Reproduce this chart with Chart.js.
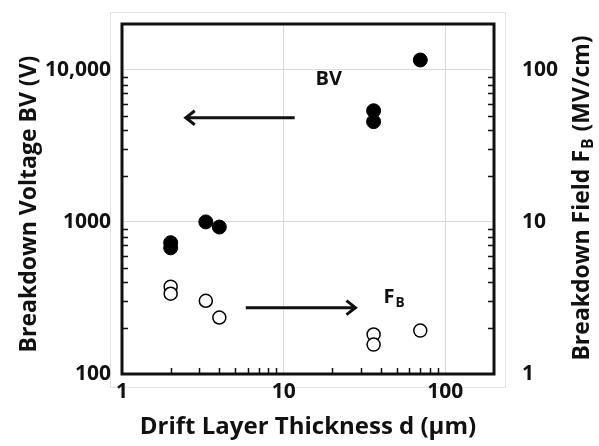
<!DOCTYPE html>
<html>
<head>
<meta charset="utf-8">
<script src="https://cdn.jsdelivr.net/npm/chart.js@4"></script>
<style>
  html, body { margin: 0; padding: 0; background: #fff; }
  #wrap { width: 599px; height: 446px; }
</style>
</head>
<body>
<div id="wrap"><canvas id="c" width="599" height="446"></canvas></div>
<script>
// drift layer thickness d (µm), shared by both series
const thickness = [2, 2, 3.3, 4, 36, 36, 70];
// breakdown voltage BV (V), left axis
const bvValues = [730, 675, 1000, 925, 5380, 4560, 11600];
// breakdown field F_B (MV/cm), right axis
const fbValues = [3.75, 3.37, 3.03, 2.35, 1.82, 1.56, 1.93];

const xTicks = [1, 10, 100];
const bvTicks = [100, 1000, 10000];
const fbTicks = [1, 10, 100];

const FONT = "'Open Sans', sans-serif";
const INK = "#111";

function minorValues(min, max) {
  const out = [];
  for (let dec = min; dec < max; dec *= 10) {
    for (let k = 2; k <= 9; k++) {
      const v = dec * k;
      if (v < max) out.push(v);
    }
  }
  return out;
}

function measureSub(ctx, main, sub, rest, size) {
  ctx.font = `bold ${size}px ${FONT}`;
  const w1 = ctx.measureText(main).width;
  const w3 = ctx.measureText(rest).width;
  ctx.font = `bold ${size * 0.68}px ${FONT}`;
  const w2 = ctx.measureText(sub).width;
  return { w1, w2, w3, total: w1 + w2 + w3 + 2 };
}

// text with a subscript part, e.g. F + B
function putSub(ctx, x, y, main, sub, rest, size) {
  const m = measureSub(ctx, main, sub, rest, size);
  ctx.textAlign = "left";
  ctx.textBaseline = "middle";
  ctx.font = `bold ${size}px ${FONT}`;
  ctx.fillText(main, x, y);
  ctx.font = `bold ${size * 0.68}px ${FONT}`;
  ctx.fillText(sub, x + m.w1 + 1, y + size * 0.28);
  ctx.font = `bold ${size}px ${FONT}`;
  ctx.fillText(rest, x + m.w1 + m.w2 + 2, y);
  return m;
}

function arrow(ctx, x0, y0, x1, y1) {
  const dir = Math.sign(x1 - x0);
  ctx.beginPath();
  ctx.moveTo(x0, y0);
  ctx.lineTo(x1, y1);
  ctx.moveTo(x1 - dir * 9, y1 - 7);
  ctx.lineTo(x1, y1);
  ctx.lineTo(x1 - dir * 9, y1 + 7);
  ctx.stroke();
}

const decorations = {
  id: "decorations",
  beforeDraw(chart) {
    const { ctx } = chart;
    ctx.save();
    ctx.strokeStyle = "#e4e4e4";
    ctx.lineWidth = 1;
    ctx.strokeRect(110.5, 12.5, 395, 375);
    ctx.restore();
  },
  afterDraw(chart) {
    const { ctx, chartArea: a, scales } = chart;
    const sx = scales.x, sy = scales.y, sy2 = scales.y2;
    ctx.save();
    ctx.strokeStyle = INK;
    ctx.fillStyle = INK;

    // minor ticks, inside the frame
    ctx.lineWidth = 1.5;
    ctx.beginPath();
    for (const v of minorValues(1, 200)) {
      const px = Math.round(sx.getPixelForValue(v)) + 0.5;
      ctx.moveTo(px, a.bottom);
      ctx.lineTo(px, a.bottom - 6);
    }
    for (const v of minorValues(100, 20000)) {
      const py = Math.round(sy.getPixelForValue(v)) + 0.5;
      ctx.moveTo(a.left, py);
      ctx.lineTo(a.left + 6, py);
    }
    for (const v of minorValues(1, 200)) {
      const py = Math.round(sy2.getPixelForValue(v)) + 0.5;
      ctx.moveTo(a.right, py);
      ctx.lineTo(a.right - 6, py);
    }
    ctx.stroke();

    // frame
    ctx.lineWidth = 3;
    ctx.strokeRect(a.left, a.top, a.right - a.left, a.bottom - a.top);

    // annotation arrows
    arrow(ctx, sx.getPixelForValue(11.7), sy.getPixelForValue(4840),
               sx.getPixelForValue(2.48), sy.getPixelForValue(4840));
    arrow(ctx, sx.getPixelForValue(5.83), sy2.getPixelForValue(2.73),
               sx.getPixelForValue(27.8), sy2.getPixelForValue(2.73));

    // annotation labels
    ctx.font = `bold 20px ${FONT}`;
    ctx.textAlign = "center";
    ctx.textBaseline = "middle";
    ctx.fillText("BV", sx.getPixelForValue(19), sy.getPixelForValue(8600));
    putSub(ctx, sx.getPixelForValue(41.4), sy2.getPixelForValue(3.18), "F", "B", "", 20);

    // axis titles
    ctx.font = `bold 24px ${FONT}`;
    ctx.textAlign = "center";
    ctx.textBaseline = "middle";
    ctx.fillText("Drift Layer Thickness d (\u00b5m)", 308, 427);

    ctx.font = `bold 23px ${FONT}`;
    ctx.save();
    ctx.translate(29, 204);
    ctx.rotate(-Math.PI / 2);
    ctx.fillText("Breakdown Voltage BV (V)", 0, 0);
    ctx.restore();

    ctx.save();
    ctx.translate(582, 198);
    ctx.rotate(-Math.PI / 2);
    const m = measureSub(ctx, "Breakdown Field F", "B", " (MV/cm)", 23);
    putSub(ctx, -m.total / 2, 0, "Breakdown Field F", "B", " (MV/cm)", 23);
    ctx.restore();

    ctx.restore();
  }
};

const tickFont = { family: FONT, size: 21, weight: "bold" };

function fitVertical(width) {
  return s => {
    s.width = width;
    s.paddingTop = 0;
    s.paddingBottom = 0;
  };
}

new Chart(document.getElementById("c"), {
  type: "scatter",
  data: {
    datasets: [
      {
        label: "BV",
        yAxisID: "y",
        data: thickness.map((d, i) => ({ x: d, y: bvValues[i] })),
        pointStyle: "circle",
        pointRadius: 7,
        pointBackgroundColor: "#000",
        pointBorderColor: "#000",
        pointBorderWidth: 1
      },
      {
        label: "FB",
        yAxisID: "y2",
        data: thickness.map((d, i) => ({ x: d, y: fbValues[i] })),
        pointStyle: "circle",
        pointRadius: 6.5,
        pointBackgroundColor: "#fff",
        pointBorderColor: "#000",
        pointBorderWidth: 1.5
      }
    ]
  },
  options: {
    responsive: false,
    animation: false,
    layout: { padding: { top: 24, left: 0, right: 0, bottom: 0 } },
    plugins: { legend: { display: false }, tooltip: { enabled: false } },
    scales: {
      x: {
        type: "logarithmic",
        min: 1,
        max: 200,
        afterBuildTicks: s => { s.ticks = xTicks.map(v => ({ value: v })); },
        afterFit: s => { s.height = 72; s.paddingLeft = 0; s.paddingRight = 0; },
        grid: { color: "#d9d9d9", drawTicks: false },
        border: { display: false },
        ticks: { font: tickFont, color: INK, padding: 5, maxRotation: 0,
                 callback: v => String(v) }
      },
      y: {
        type: "logarithmic",
        position: "left",
        min: 100,
        max: 20000,
        afterBuildTicks: s => { s.ticks = bvTicks.map(v => ({ value: v })); },
        afterFit: fitVertical(122),
        grid: { color: "#d9d9d9", drawTicks: false },
        border: { display: false },
        ticks: { font: tickFont, color: INK, padding: 11,
                 callback: v => v >= 10000 ? v.toLocaleString("en-US") : String(v) }
      },
      y2: {
        type: "logarithmic",
        position: "right",
        min: 1,
        max: 200,
        afterBuildTicks: s => { s.ticks = fbTicks.map(v => ({ value: v })); },
        afterFit: fitVertical(105),
        grid: { display: false },
        border: { display: false },
        ticks: { font: tickFont, color: INK, padding: 20, callback: v => String(v) }
      }
    }
  },
  plugins: [decorations]
});
</script>
</body>
</html>
